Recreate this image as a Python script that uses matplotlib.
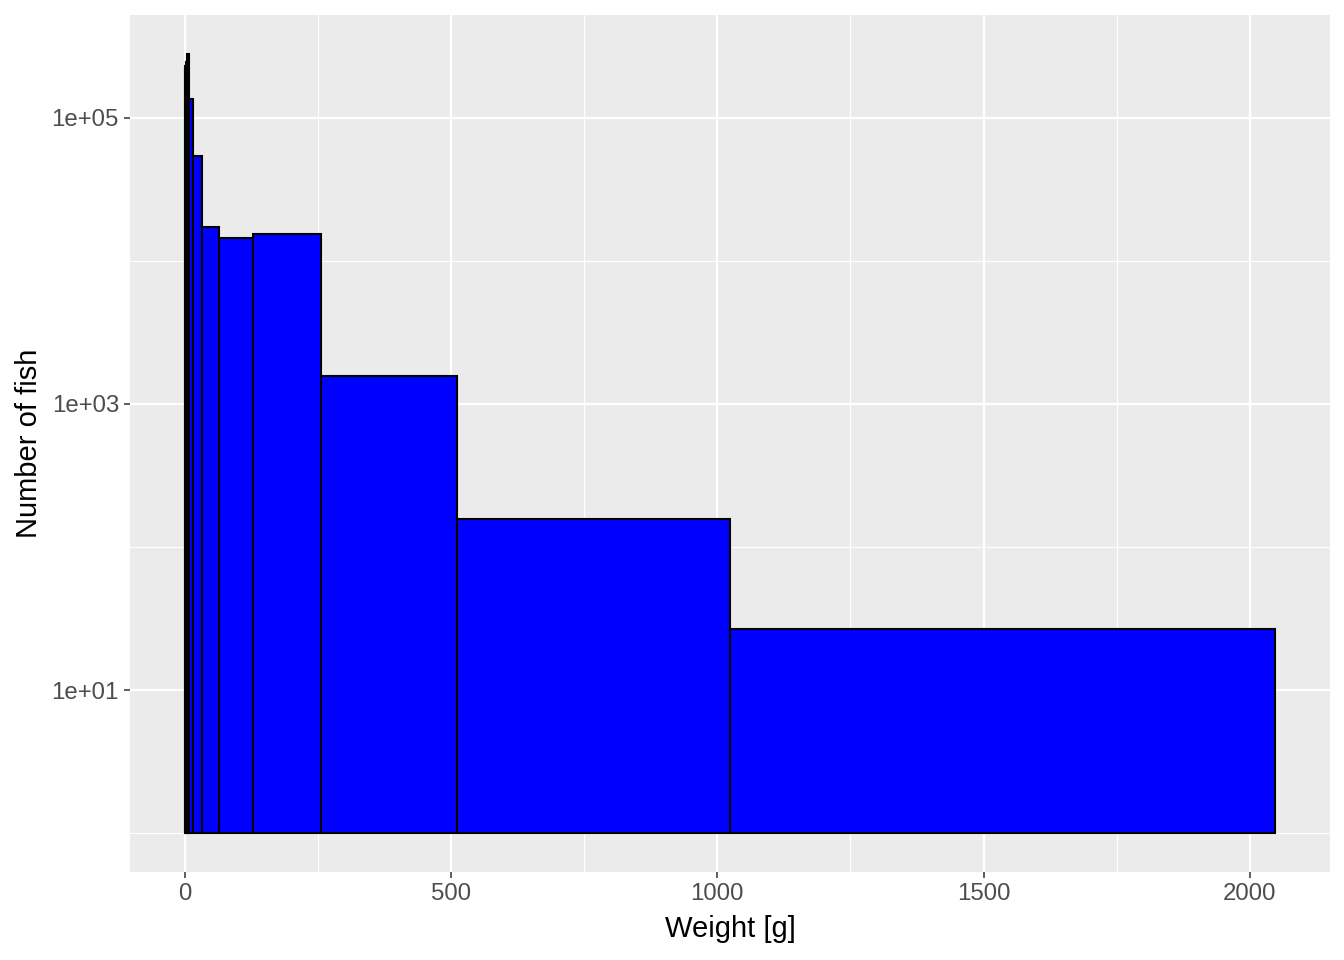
import matplotlib
matplotlib.use("Agg")
import matplotlib.pyplot as plt
import numpy as np
from matplotlib.ticker import FixedLocator, FuncFormatter

# Bin edges (grams) and fish counts per bin
bin_edges = [0, 1, 2, 4, 8, 16, 32, 64, 128, 256, 512, 1024, 2048]
counts = [228000, 232000, 245000, 280000, 136000, 54200, 17300, 14500, 15400, 1570, 157, 26.7]
x_ticks = [0, 500, 1000, 1500, 2000]
y_ticks = [1e1, 1e3, 1e5]
y_tick_labels = ["1e+01", "1e+03", "1e+05"]

plt.rcParams["font.family"] = ["Liberation Sans", "DejaVu Sans"]

fig = plt.figure(figsize=(13.44, 9.6), dpi=100)
ax = fig.add_axes([130/1344, 88/960, 1200/1344, 857/960])
ax.set_facecolor("#EBEBEB")

edges = np.array(bin_edges, dtype=float)
ax.bar(edges[:-1], np.array(counts) - 1, width=np.diff(edges), bottom=1, align="edge",
       color="#0000FF", edgecolor="black", linewidth=1.5, zorder=3)

ax.set_yscale("log")
lo, hi = 0.0, np.log10(max(counts))
pad = (hi - lo) * 0.05
ax.set_ylim(10 ** (lo - pad), 10 ** (hi + pad))
xpad = (edges[-1] - edges[0]) * 0.05
ax.set_xlim(edges[0] - xpad, edges[-1] + xpad)

ax.yaxis.set_major_locator(FixedLocator(y_ticks))
ax.yaxis.set_major_formatter(FuncFormatter(lambda v, p: y_tick_labels[y_ticks.index(v)] if v in y_ticks else ""))
ax.yaxis.set_minor_locator(FixedLocator([1e0, 1e2, 1e4]))
ax.yaxis.set_minor_formatter(FuncFormatter(lambda v, p: ""))
ax.xaxis.set_major_locator(FixedLocator(x_ticks))
ax.xaxis.set_minor_locator(FixedLocator([250, 750, 1250, 1750]))

ax.grid(which="major", color="white", linewidth=1.6, zorder=0)
ax.grid(which="minor", color="white", linewidth=0.8, zorder=0)
ax.set_axisbelow(True)
for s in ax.spines.values():
    s.set_visible(False)

ax.tick_params(which="major", length=4, width=1.1, color="#333333", labelcolor="#4D4D4D",
               labelsize=17.3, pad=4)
ax.tick_params(which="minor", length=0)

ax.set_xlabel("Weight [g]", fontsize=21, color="black", labelpad=7)
ax.set_ylabel("Number of fish", fontsize=21, color="black", labelpad=6)

fig.savefig("out.png", dpi=100)
